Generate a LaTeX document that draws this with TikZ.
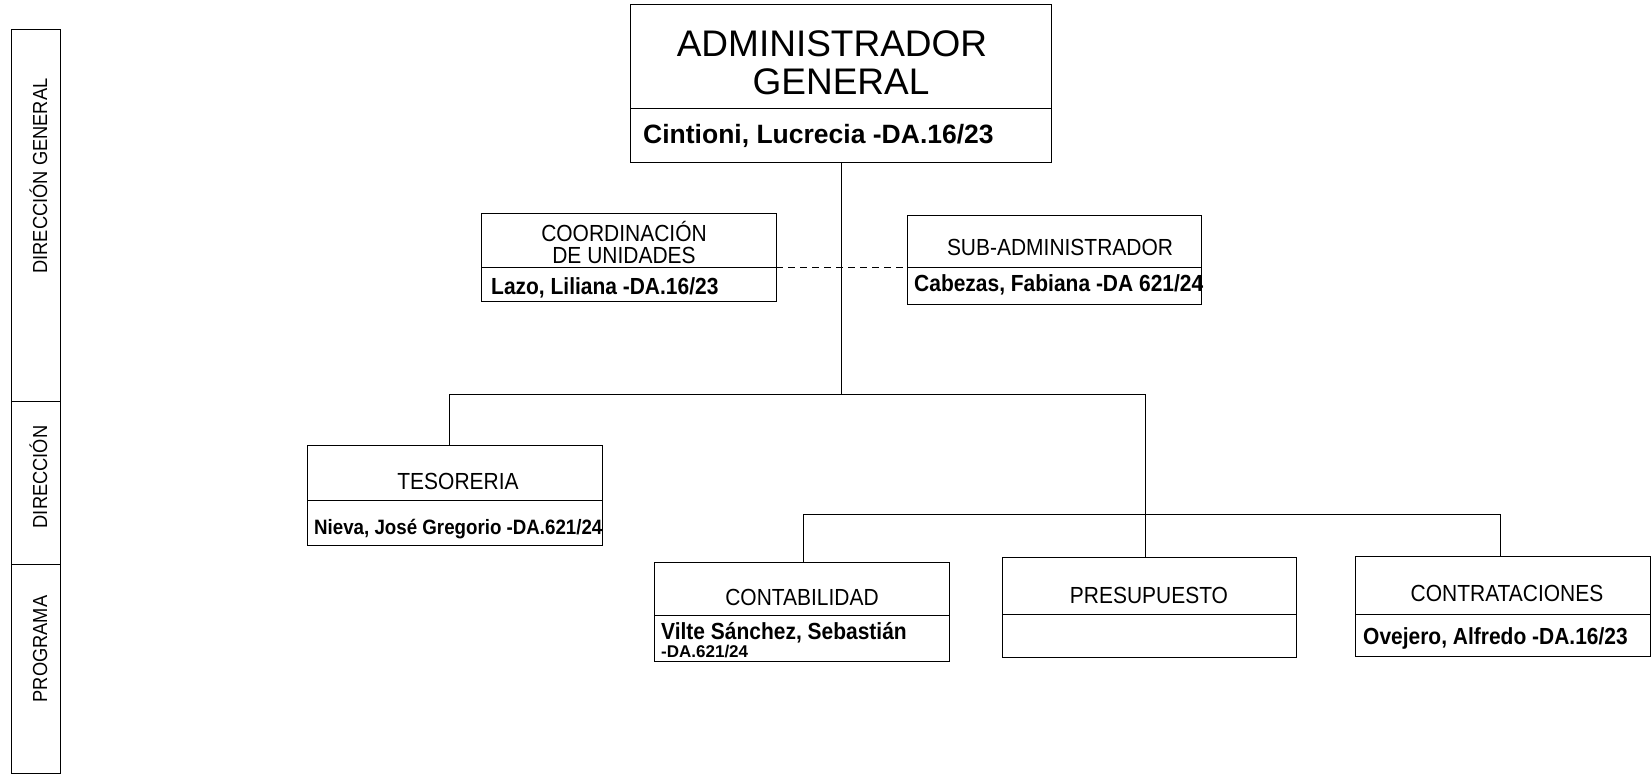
\documentclass[tikz,border=0pt]{standalone}
\usepackage{fontspec}
\setmainfont{Liberation Sans}
\newfontfamily\nar[FakeStretch=0.9]{Liberation Sans}
\newfontfamily\narr[FakeStretch=1.0]{Liberation Sans}
\begin{document}
\begin{tikzpicture}[x=1pt,y=-1pt,
  box/.style={draw, rectangle, inner sep=0pt, outer sep=0pt, line width=1pt},
  ln/.style={line width=1pt},
  big/.style={inner sep=0pt, font=\fontsize{37}{40}\selectfont},
  bigb/.style={inner sep=0pt, font=\fontsize{26.5}{28}\selectfont\bfseries},
  ttl/.style={inner sep=0pt, font=\nar\fontsize{23.3}{25}\selectfont, anchor=base},
  nm/.style={inner sep=0pt, font=\nar\fontsize{23.3}{25}\selectfont\bfseries, anchor=base west},
  side/.style={inner sep=0pt, font=\nar\fontsize{20.3}{22}\selectfont, anchor=base, rotate=90}]
\useasboundingbox (0,0) rectangle (1651,774);
\fill[white] (0,0) rectangle (1651,774);
% left column
\node[box, minimum width=49pt, minimum height=744pt] (col) at (35.5,401) {};
\coordinate (cd1) at (11,401);
\coordinate (cd2) at (11,564);
\draw[ln] (cd1) -- (cd1 -| col.east);
\draw[ln] (cd2) -- (cd2 -| col.east);
\node[side] (lg) at (47,176) {DIRECCIÓN GENERAL};
\node[side] (ld) at (47,477) {DIRECCIÓN};
\node[side] (lp) at (47,649) {PROGRAMA};
% boxes
\node[box, minimum width=421pt, minimum height=158pt] (adm) at (840.5,83) {};
\node[box, minimum width=295pt, minimum height=88pt] (coord) at (628.5,257) {};
\node[box, minimum width=294pt, minimum height=89pt] (sub) at (1054,259.5) {};
\node[box, minimum width=295pt, minimum height=100pt] (teso) at (454.5,495) {};
\node[box, minimum width=295pt, minimum height=99pt] (conta) at (801.5,611.5) {};
\node[box, minimum width=294pt, minimum height=100pt] (presu) at (1149,607) {};
\node[box, minimum width=295pt, minimum height=100pt] (contra) at (1503,606) {};
% dividers
\coordinate (dadm) at (0,108);
\coordinate (dco) at (0,267);
\coordinate (dte) at (0,500);
\coordinate (dca) at (0,615);
\coordinate (dpr) at (0,614);
\draw[ln] (adm.west |- dadm) -- (adm.east |- dadm);
\draw[ln] (coord.west |- dco) -- (coord.east |- dco);
\draw[ln] (sub.west |- dco) -- (sub.east |- dco);
\draw[ln] (teso.west |- dte) -- (teso.east |- dte);
\draw[ln] (conta.west |- dca) -- (conta.east |- dca);
\draw[ln] (presu.west |- dpr) -- (presu.east |- dpr);
\draw[ln] (contra.west |- dpr) -- (contra.east |- dpr);
% connectors
\coordinate (j0) at (841,394);
\coordinate (j1) at (449,394);
\coordinate (j2) at (1145,394);
\coordinate (k0) at (1145,514);
\coordinate (k1) at (803,514);
\coordinate (k2) at (1500,514);
\draw[ln] (adm.south -| j0) -- (j0);
\draw[ln] (j1) -- (j2);
\draw[ln] (j1) -- (j1 |- teso.north);
\draw[ln] (j2) -- (j2 |- presu.north);
\draw[ln] (k1) -- (k2);
\draw[ln] (k1) -- (k1 |- conta.north);
\draw[ln] (k2) -- (k2 |- contra.north);
\draw[ln, dash pattern=on 7pt off 5pt] (coord.east |- dco) -- (sub.west |- dco);
% texts
\node[big, anchor=base] (t1) at (832,56) {ADMINISTRADOR};
\node[big, anchor=base] (t2) at (841,94) {GENERAL};
\node[bigb, anchor=base west] (n1) at (643,143) {Cintioni, Lucrecia -DA.16/23};
\node[ttl] (c1) at (624,241) {COORDINACIÓN};
\node[ttl] (c2) at (624,263) {DE UNIDADES};
\node[nm] (c3) at (491,294) {Lazo, Liliana -DA.16/23};
\node[ttl] (s1) at (1060,255) {SUB-ADMINISTRADOR};
\node[nm] (s2) at (914,291) {Cabezas, Fabiana -DA 621/24};
\node[ttl] (te1) at (458,489) {TESORERIA};
\node[nm, font=\nar\fontsize{20.8}{22}\selectfont\bfseries] (te2) at (314,534) {Nieva, José Gregorio -DA.621/24};
\node[ttl] (ca1) at (802,605) {CONTABILIDAD};
\node[nm] (ca2) at (661,639) {Vilte Sánchez, Sebastián};
\node[nm, font=\narr\fontsize{17}{18}\selectfont\bfseries] (ca3) at (661,657) {-DA.621/24};
\node[ttl] (p1) at (1149,603) {PRESUPUESTO};
\node[ttl] (o1) at (1507,601) {CONTRATACIONES};
\node[nm] (o2) at (1363,644) {Ovejero, Alfredo -DA.16/23};
\end{tikzpicture}
\end{document}
